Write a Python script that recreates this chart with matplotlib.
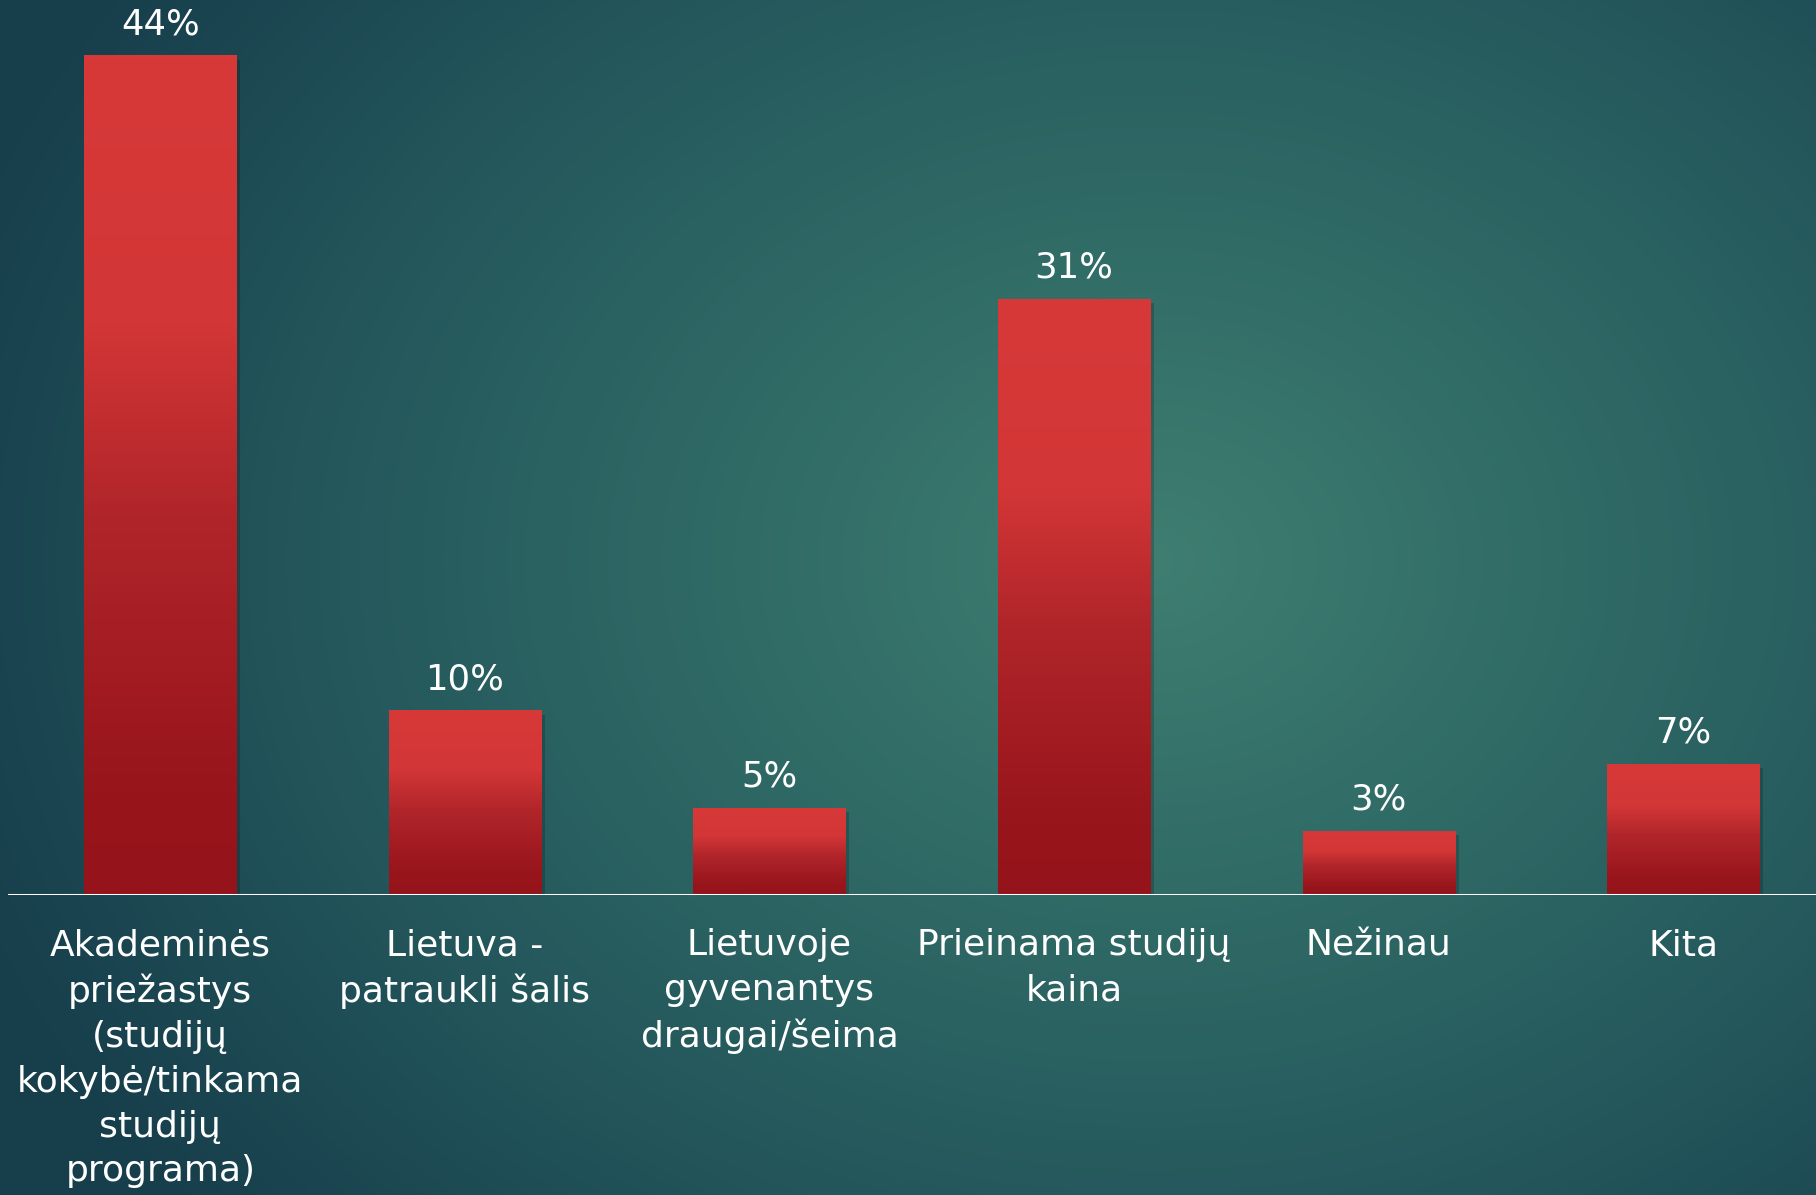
import numpy as np
import matplotlib.pyplot as plt
from matplotlib.colors import LinearSegmentedColormap

categories = ['Akademinės\npriežastys\n(studijų\nkokybė/tinkama\nstudijų\nprograma)',
              'Lietuva -\npatraukli šalis',
              'Lietuvoje\ngyvenantys\ndraugai/šeima',
              'Prieinama studijų\nkaina',
              'Nežinau',
              'Kita']
values = [44, 9.65, 4.55, 31.25, 3.35, 6.85]
value_labels = ['44%', '10%', '5%', '31%', '3%', '7%']

plt.rcParams['font.family'] = ['DejaVu Sans']

W, H = 1816, 1195
fig = plt.figure(figsize=(W / 100, H / 100), dpi=100)

# background: radial teal gradient
bg = fig.add_axes([0, 0, 1, 1])
yy, xx = np.mgrid[0:H, 0:W]
r = np.sqrt(((xx - 1150) / 1250.0) ** 2 + ((yy - 560) / 1000.0) ** 2)
r = np.clip(r, 0, 1)
bg_cmap = LinearSegmentedColormap.from_list('bg', ['#3f7e71', '#306b66', '#24575c', '#173f4c'])
bg.imshow(r, cmap=bg_cmap, aspect='auto', extent=(0, 1, 0, 1), origin='upper')
bg.set_axis_off()

# main axes
ax = fig.add_axes([8 / W, 1 - 895 / H, (W - 8) / W, 895 / H])
ax.set_facecolor('none')
step = 304.6
ax.set_xlim(-0.5, -0.5 + (W - 8) / step)
ax.set_ylim(0, 895 / 19.07)

bar_cmap = LinearSegmentedColormap.from_list(
    'bar', [(0.0, '#95131a'), (0.12, '#97151b'), (0.45, '#b0252a'), (0.68, '#d33636'), (1.0, '#d73939')])
grad = np.linspace(0, 1, 256).reshape(-1, 1)
width = 0.5
x = np.arange(len(values))
for i, v in enumerate(values):
    # soft shadow
    ax.bar(x[i] + 0.012, v, width=width, bottom=-0.2, color='black', alpha=0.18, zorder=2)
    ax.imshow(grad, cmap=bar_cmap, aspect='auto', origin='lower',
              extent=(x[i] - width / 2, x[i] + width / 2, 0, v), zorder=3)
    ax.text(x[i], v + 1.65, value_labels[i], ha='center', va='center',
            color='white', fontsize=25.5, zorder=4)

ax.axhline(-0.15, color='#0e2a33', lw=2, alpha=0.6, zorder=4)
ax.axhline(0, color='white', lw=2.2, zorder=5)

ax.set_xticks(x)
ax.set_xticklabels(categories, fontsize=26, color='white', linespacing=1.4)
ax.tick_params(axis='x', length=0, pad=24)
ax.set_yticks([])
for s in ax.spines.values():
    s.set_visible(False)

fig.savefig('out.png', dpi=100)
